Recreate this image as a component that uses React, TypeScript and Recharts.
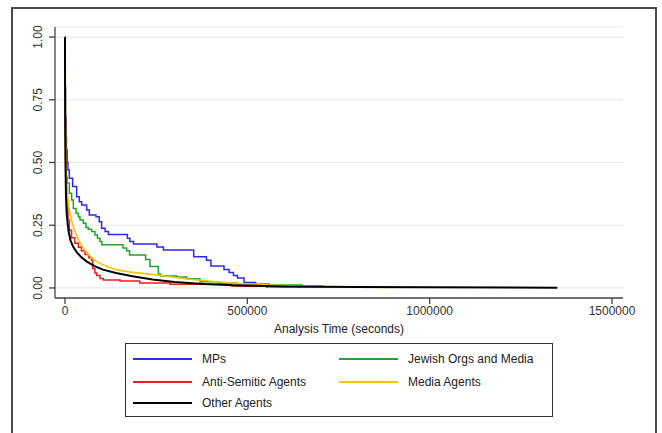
import React from "react";
import { LineChart, Line, XAxis, YAxis, CartesianGrid, Legend } from "recharts";

// Kaplan-Meier survival estimates: [analysis time (s), survival]
const mps: [number, number][] = [
  [0, 1], [500, 0.8], [1200, 0.68], [2500, 0.6], [4000, 0.55], [6000, 0.5], [8200, 0.47],
  [11900, 0.437], [21000, 0.404], [32000, 0.364], [39300, 0.344], [45700, 0.331], [59400, 0.311],
  [66700, 0.291], [85000, 0.284], [94000, 0.264], [100500, 0.238], [110000, 0.225], [119000, 0.213],
  [171000, 0.198], [178000, 0.185], [188000, 0.175], [252000, 0.163], [270000, 0.151],
  [353000, 0.124], [388000, 0.11], [400000, 0.088], [436000, 0.074], [450000, 0.062],
  [462000, 0.05], [473000, 0.04], [491000, 0.022], [523000, 0.008], [554000, 0],
];

const jewishOrgs: [number, number][] = [
  [0, 1], [500, 0.8], [1200, 0.62], [2500, 0.48], [4000, 0.44], [6400, 0.417], [12000, 0.377],
  [18300, 0.351], [22800, 0.317], [30200, 0.298], [36600, 0.284], [41000, 0.271], [50300, 0.258],
  [57600, 0.241], [64000, 0.234], [73000, 0.225], [82000, 0.211], [89000, 0.198], [96000, 0.185],
  [101000, 0.172], [159000, 0.159], [169000, 0.148], [177000, 0.131], [221000, 0.113],
  [233000, 0.086], [256000, 0.056], [262000, 0.048], [306000, 0.044], [334000, 0.037],
  [370000, 0.025], [420000, 0.02], [471000, 0.016], [560000, 0.012], [650000, 0.008],
  [707000, 0],
];

const antiSemitic: [number, number][] = [
  [0, 1], [300, 0.8], [800, 0.65], [1500, 0.52], [2700, 0.4], [5000, 0.32], [8000, 0.27],
  [12000, 0.23], [18000, 0.2], [27000, 0.178], [36600, 0.162], [45000, 0.148], [55000, 0.133],
  [65000, 0.12], [73000, 0.11], [76000, 0.078], [82000, 0.06], [87000, 0.05], [96000, 0.038],
  [105000, 0.032], [151000, 0.028], [205000, 0.02], [288000, 0.015], [457000, 0.008],
  [560000, 0.005], [722000, 0],
];

const mediaAgents: [number, number][] = [
  [0, 1], [400, 0.8], [1000, 0.62], [2000, 0.5], [4000, 0.43], [7000, 0.37], [11000, 0.32],
  [16000, 0.28], [22800, 0.245], [30000, 0.215], [41000, 0.18], [55000, 0.15], [68500, 0.126],
  [82000, 0.11], [96000, 0.098], [118000, 0.084], [142000, 0.072], [180000, 0.063],
  [233000, 0.055], [280000, 0.046], [324000, 0.038], [370000, 0.031], [416000, 0.025],
  [460000, 0.02], [507000, 0.016], [560000, 0.012], [640000, 0.008], [740000, 0.005],
  [890000, 0.002],
];

const otherAgents: [number, number][] = [
  [0, 1], [300, 0.75], [800, 0.6], [1500, 0.48], [2700, 0.37], [4500, 0.3], [7000, 0.26],
  [10000, 0.225], [15000, 0.19], [22000, 0.165], [32000, 0.143], [45000, 0.122], [60000, 0.105],
  [80000, 0.088], [104000, 0.073], [140000, 0.06], [185000, 0.047], [240000, 0.034],
  [300000, 0.024], [380000, 0.016], [480000, 0.01], [600000, 0.006], [800000, 0.004],
  [1000000, 0.003], [1350000, 0.001],
];

const xTicks = [0, 500000, 1000000, 1500000];
const yTicks = [0, 0.25, 0.5, 0.75, 1];

const toRows = (pts: [number, number][]) => pts.map(([t, s]) => ({ t, s }));

type Series = { name: string; color: string; width: number; step: boolean; data: { t: number; s: number }[] };

// drawing order: black on top
const series: Series[] = [
  { name: "MPs", color: "#2a2af2", width: 1.5, step: true, data: toRows(mps) },
  { name: "Jewish Orgs and Media", color: "#1fa52a", width: 1.5, step: true, data: toRows(jewishOrgs) },
  { name: "Anti-Semitic Agents", color: "#ee1c1c", width: 1.5, step: true, data: toRows(antiSemitic) },
  { name: "Media Agents", color: "#f5c400", width: 1.6, step: false, data: toRows(mediaAgents) },
  { name: "Other Agents", color: "#000000", width: 2, step: false, data: toRows(otherAgents) },
];

// legend rows, two columns
const legendOrder = ["MPs", "Jewish Orgs and Media", "Anti-Semitic Agents", "Media Agents", "Other Agents"];

const FONT = "'Liberation Sans', Arial, Helvetica, sans-serif";

const YTick = (props: any) => {
  const { x, y, payload } = props;
  const cx = x - 9;
  return (
    <text
      x={cx}
      y={y}
      transform={`rotate(-90, ${cx}, ${y})`}
      textAnchor="middle"
      dominantBaseline="central"
      fontSize={12}
      fill="#333"
      fontFamily={FONT}
    >
      {Number(payload.value).toFixed(2)}
    </text>
  );
};

const LegendBox = () => {
  const rowY = [15, 38, 59];
  const colLine = [7, 213];
  const colText = [76, 282];
  return (
    <div
      style={{
        position: "relative",
        width: 428,
        height: 74,
        boxSizing: "border-box",
        border: "1.5px solid #333",
        background: "#fff",
        fontFamily: FONT,
        fontSize: 12,
        color: "#222",
      }}
    >
      {legendOrder.map((name, i) => {
        const s = series.find((d) => d.name === name)!;
        const row = Math.floor(i / 2);
        const col = i % 2;
        return (
          <React.Fragment key={name}>
            <div
              style={{
                position: "absolute",
                left: colLine[col],
                top: rowY[row] - 1,
                width: 59,
                height: 2,
                background: s.color,
              }}
            />
            <div
              style={{
                position: "absolute",
                left: colText[col],
                top: rowY[row] - 8,
                lineHeight: "16px",
                whiteSpace: "nowrap",
              }}
            >
              {name}
            </div>
          </React.Fragment>
        );
      })}
    </div>
  );
};

export default function App() {
  return (
    <div
      style={{
        position: "absolute",
        left: 0,
        top: 0,
        width: 662,
        height: 433,
        overflow: "hidden",
        background: "#fff",
      }}
    >
      <div
        style={{
          position: "absolute",
          left: 11,
          top: 7,
          width: 646,
          height: 460,
          boxSizing: "border-box",
          border: "2px solid #4a4a4a",
        }}
      />
      <div style={{ position: "absolute", left: 0, top: 0 }}>
        <LineChart width={662} height={433} margin={{ top: 27, right: 39, bottom: 100, left: 0 }}>
          <CartesianGrid horizontal vertical={false} stroke="#e9e9e9" strokeWidth={1.2} />
          <XAxis
            type="number"
            dataKey="t"
            domain={[-27400, 1530200]}
            ticks={xTicks}
            allowDataOverflow
            height={35}
            tickSize={6}
            stroke="#444"
            strokeWidth={1.3}
            tick={{ fontSize: 12, fill: "#333", fontFamily: FONT }}
            tickFormatter={(v: number) => String(v)}
            label={{
              value: "Analysis Time (seconds)",
              position: "insideBottom",
              offset: 0,
              style: { fontSize: 12, fill: "#222", fontFamily: FONT },
            }}
          />
          <YAxis
            type="number"
            dataKey="s"
            domain={[-0.04, 1.04]}
            ticks={yTicks}
            allowDataOverflow
            width={55}
            tickSize={6}
            stroke="#444"
            strokeWidth={1.3}
            tick={<YTick />}
          />
          <Legend
            layout="horizontal"
            verticalAlign="middle"
            align="center"
            wrapperStyle={{ left: 125, top: 343, width: 428, height: 74 }}
            content={() => <LegendBox />}
          />
          {series.map((s) => (
            <Line
              key={s.name}
              name={s.name}
              data={s.data}
              dataKey="s"
              type={s.step ? "stepAfter" : "linear"}
              stroke={s.color}
              strokeWidth={s.width}
              dot={false}
              activeDot={false}
              isAnimationActive={false}
            />
          ))}
        </LineChart>
      </div>
    </div>
  );
}
